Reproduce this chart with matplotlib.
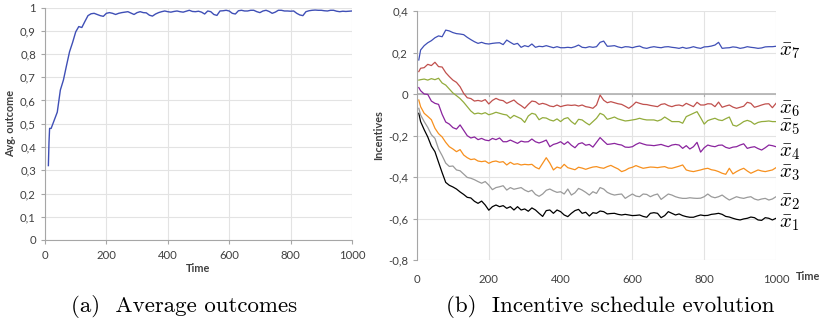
import numpy as np
import matplotlib
matplotlib.use('Agg')
from matplotlib import pyplot as plt
from matplotlib.ticker import FuncFormatter

# (a) average outcome over time
time_a = [11, 13, 15, 20] + list(range(30, 1001, 10))
outcome = [0.320, 0.420, 0.480, 0.480, 0.515, 0.550, 0.645, 0.688, 0.750, 0.810,
           0.850, 0.895, 0.918, 0.914, 0.940, 0.965, 0.973, 0.975, 0.970, 0.965,
           0.962, 0.975, 0.978, 0.975, 0.970, 0.975, 0.978, 0.980, 0.982, 0.976,
           0.970, 0.978, 0.982, 0.978, 0.977, 0.967, 0.963, 0.972, 0.978, 0.982,
           0.985, 0.982, 0.980, 0.983, 0.985, 0.982, 0.980, 0.984, 0.988, 0.983,
           0.982, 0.984, 0.980, 0.972, 0.985, 0.982, 0.970, 0.966, 0.985, 0.986,
           0.988, 0.985, 0.975, 0.972, 0.986, 0.988, 0.985, 0.985, 0.988, 0.988,
           0.982, 0.978, 0.985, 0.988, 0.983, 0.975, 0.980, 0.988, 0.988, 0.985,
           0.985, 0.984, 0.985, 0.975, 0.968, 0.965, 0.982, 0.986, 0.988, 0.989,
           0.988, 0.988, 0.986, 0.985, 0.988, 0.988, 0.984, 0.982, 0.984, 0.983,
           0.984, 0.985]

# (b) incentive schedule, one series per x-bar
time_b = [5] + list(range(10, 1001, 10))
x7 = [0.164, 0.212, 0.233, 0.247, 0.257, 0.271, 0.280, 0.276, 0.308, 0.304,
      0.296, 0.291, 0.289, 0.286, 0.273, 0.262, 0.252, 0.244, 0.249, 0.243,
      0.241, 0.244, 0.246, 0.247, 0.238, 0.260, 0.249, 0.239, 0.244, 0.225,
      0.233, 0.228, 0.241, 0.225, 0.230, 0.228, 0.233, 0.228, 0.223, 0.228,
      0.223, 0.223, 0.225, 0.223, 0.228, 0.236, 0.225, 0.223, 0.228, 0.225,
      0.228, 0.249, 0.255, 0.230, 0.231, 0.233, 0.227, 0.223, 0.228, 0.227,
      0.223, 0.228, 0.231, 0.223, 0.220, 0.225, 0.228, 0.225, 0.223, 0.227,
      0.228, 0.225, 0.223, 0.220, 0.225, 0.220, 0.223, 0.228, 0.223, 0.220,
      0.227, 0.228, 0.231, 0.236, 0.249, 0.220, 0.222, 0.223, 0.227, 0.225,
      0.220, 0.223, 0.228, 0.225, 0.223, 0.220, 0.222, 0.227, 0.228, 0.228,
      0.230]
x6 = [0.108, 0.124, 0.127, 0.143, 0.137, 0.153, 0.132, 0.130, 0.103, 0.084,
      0.067, 0.056, 0.035, 0.003, -0.018, -0.022, -0.034, -0.031, -0.035, -0.027,
      -0.048, -0.031, -0.021, -0.029, -0.032, -0.045, -0.037, -0.029, -0.045, -0.056,
      -0.069, -0.050, -0.034, -0.037, -0.050, -0.045, -0.050, -0.058, -0.061, -0.053,
      -0.061, -0.056, -0.053, -0.055, -0.053, -0.058, -0.053, -0.061, -0.064, -0.069,
      -0.053, -0.005, -0.030, -0.042, -0.037, -0.042, -0.047, -0.050, -0.059, -0.069,
      -0.056, -0.039, -0.045, -0.050, -0.051, -0.055, -0.058, -0.061, -0.050, -0.047,
      -0.056, -0.061, -0.055, -0.053, -0.058, -0.045, -0.053, -0.061, -0.040, -0.053,
      -0.053, -0.047, -0.048, -0.061, -0.039, -0.064, -0.058, -0.053, -0.063, -0.069,
      -0.064, -0.059, -0.040, -0.045, -0.064, -0.059, -0.053, -0.048, -0.047, -0.066,
      -0.045]
x5 = [0.067, 0.069, 0.072, 0.067, 0.074, 0.069, 0.076, 0.053, 0.043, 0.024,
      0.005, -0.008, -0.022, -0.040, -0.061, -0.082, -0.096, -0.092, -0.096, -0.090,
      -0.100, -0.095, -0.088, -0.093, -0.098, -0.101, -0.117, -0.103, -0.111, -0.119,
      -0.137, -0.106, -0.093, -0.098, -0.124, -0.114, -0.116, -0.125, -0.130, -0.120,
      -0.133, -0.119, -0.114, -0.133, -0.146, -0.122, -0.125, -0.138, -0.149, -0.133,
      -0.117, -0.093, -0.101, -0.122, -0.117, -0.111, -0.120, -0.125, -0.130, -0.128,
      -0.125, -0.122, -0.117, -0.122, -0.125, -0.125, -0.125, -0.130, -0.124, -0.111,
      -0.122, -0.133, -0.133, -0.133, -0.141, -0.109, -0.101, -0.093, -0.085, -0.114,
      -0.145, -0.128, -0.122, -0.117, -0.125, -0.128, -0.119, -0.111, -0.150, -0.155,
      -0.145, -0.133, -0.127, -0.133, -0.146, -0.137, -0.133, -0.132, -0.130, -0.133,
      -0.133]
x4 = [0.031, 0.016, 0.000, -0.002, -0.034, -0.045, -0.050, -0.098, -0.135, -0.145,
      -0.162, -0.169, -0.149, -0.175, -0.201, -0.212, -0.207, -0.220, -0.214, -0.222,
      -0.225, -0.214, -0.220, -0.212, -0.230, -0.230, -0.222, -0.230, -0.238, -0.227,
      -0.231, -0.230, -0.217, -0.230, -0.236, -0.230, -0.222, -0.254, -0.243, -0.238,
      -0.230, -0.243, -0.230, -0.247, -0.259, -0.240, -0.235, -0.247, -0.243, -0.256,
      -0.233, -0.210, -0.227, -0.243, -0.241, -0.238, -0.243, -0.246, -0.256, -0.257,
      -0.254, -0.243, -0.235, -0.241, -0.246, -0.247, -0.249, -0.246, -0.243, -0.249,
      -0.254, -0.246, -0.243, -0.246, -0.262, -0.249, -0.265, -0.254, -0.233, -0.280,
      -0.259, -0.246, -0.251, -0.254, -0.247, -0.246, -0.257, -0.262, -0.256, -0.254,
      -0.246, -0.240, -0.262, -0.257, -0.254, -0.263, -0.270, -0.259, -0.246, -0.249,
      -0.254]
x3 = [-0.029, -0.061, -0.093, -0.108, -0.124, -0.165, -0.191, -0.207, -0.233, -0.254,
      -0.265, -0.278, -0.268, -0.294, -0.307, -0.316, -0.313, -0.323, -0.326, -0.323,
      -0.334, -0.326, -0.323, -0.329, -0.326, -0.342, -0.329, -0.339, -0.336, -0.342,
      -0.339, -0.341, -0.339, -0.353, -0.361, -0.334, -0.307, -0.333, -0.366, -0.352,
      -0.358, -0.339, -0.355, -0.360, -0.365, -0.353, -0.357, -0.363, -0.357, -0.352,
      -0.350, -0.355, -0.358, -0.350, -0.344, -0.353, -0.361, -0.374, -0.368, -0.358,
      -0.353, -0.345, -0.352, -0.358, -0.355, -0.352, -0.353, -0.355, -0.352, -0.350,
      -0.357, -0.358, -0.353, -0.348, -0.342, -0.366, -0.371, -0.374, -0.370, -0.366,
      -0.361, -0.358, -0.365, -0.368, -0.374, -0.382, -0.387, -0.358, -0.385, -0.374,
      -0.365, -0.358, -0.371, -0.382, -0.374, -0.366, -0.371, -0.374, -0.370, -0.366,
      -0.355]
x2 = [-0.069, -0.101, -0.133, -0.161, -0.196, -0.214, -0.265, -0.297, -0.333, -0.349,
      -0.347, -0.366, -0.370, -0.386, -0.402, -0.406, -0.413, -0.422, -0.430, -0.422,
      -0.439, -0.461, -0.451, -0.447, -0.442, -0.463, -0.451, -0.459, -0.455, -0.451,
      -0.463, -0.471, -0.464, -0.484, -0.493, -0.482, -0.464, -0.458, -0.467, -0.474,
      -0.471, -0.482, -0.458, -0.487, -0.476, -0.455, -0.463, -0.474, -0.487, -0.471,
      -0.479, -0.451, -0.458, -0.474, -0.482, -0.487, -0.484, -0.482, -0.503, -0.492,
      -0.482, -0.492, -0.495, -0.482, -0.484, -0.495, -0.487, -0.482, -0.508, -0.495,
      -0.482, -0.487, -0.495, -0.500, -0.503, -0.503, -0.500, -0.502, -0.503, -0.502,
      -0.495, -0.482, -0.495, -0.500, -0.495, -0.487, -0.500, -0.511, -0.503, -0.495,
      -0.500, -0.503, -0.498, -0.495, -0.506, -0.511, -0.506, -0.503, -0.511, -0.506,
      -0.495]
x1 = [-0.093, -0.133, -0.172, -0.207, -0.251, -0.278, -0.329, -0.379, -0.426, -0.440,
      -0.448, -0.458, -0.472, -0.484, -0.498, -0.501, -0.517, -0.527, -0.516, -0.535,
      -0.560, -0.543, -0.535, -0.543, -0.538, -0.551, -0.543, -0.559, -0.543, -0.559,
      -0.554, -0.565, -0.549, -0.559, -0.575, -0.590, -0.562, -0.559, -0.575, -0.559,
      -0.567, -0.583, -0.591, -0.575, -0.562, -0.556, -0.575, -0.570, -0.588, -0.572,
      -0.575, -0.564, -0.567, -0.578, -0.576, -0.575, -0.580, -0.583, -0.580, -0.583,
      -0.586, -0.585, -0.583, -0.590, -0.594, -0.575, -0.572, -0.575, -0.596, -0.586,
      -0.567, -0.575, -0.583, -0.578, -0.586, -0.591, -0.594, -0.594, -0.588, -0.583,
      -0.586, -0.585, -0.580, -0.578, -0.575, -0.580, -0.590, -0.593, -0.599, -0.604,
      -0.607, -0.602, -0.599, -0.593, -0.596, -0.607, -0.609, -0.596, -0.599, -0.607,
      -0.599]

series = [x1, x2, x3, x4, x5, x6, x7]
colors = ['#000000', '#9a9a9a', '#f7901e', '#8a249e', '#93ac3c', '#c0504d', '#3f4fb6']
labels = [r'$\bar{x}_1$', r'$\bar{x}_2$', r'$\bar{x}_3$', r'$\bar{x}_4$',
          r'$\bar{x}_5$', r'$\bar{x}_6$', r'$\bar{x}_7$']

plt.rcParams['font.family'] = 'Lato'
plt.rcParams['mathtext.fontset'] = 'cm'
tick_font = 8.2
grid_col = '#e3e3e3'
axis_col = '#a6a6a6'
text_col = '#404040'

comma = FuncFormatter(lambda v, p: ('%g' % (round(v, 2) + 0.0)).replace('.', ','))

fig = plt.figure(figsize=(8.27, 3.22), dpi=100)

# ---- (a) ----
ax1 = fig.add_axes([45 / 827, 1 - 240 / 322, 307 / 827, 232.5 / 322])
ax1.plot(time_a, outcome, color='#3f4fb6', lw=1.0)
ax1.set_xlim(0, 1000)
ax1.set_ylim(0, 1)
ax1.set_xticks(range(0, 1001, 200))
ax1.set_yticks(np.arange(0, 1.01, 0.1))
ax1.yaxis.set_major_formatter(comma)
ax1.grid(True, color=grid_col, lw=0.8)
ax1.set_axisbelow(True)
for s in ['top', 'right']:
    ax1.spines[s].set_visible(False)
for s in ['left', 'bottom']:
    ax1.spines[s].set_color(axis_col)
ax1.tick_params(colors=axis_col, labelcolor=text_col, labelsize=tick_font, length=3, width=0.8)
ax1.tick_params(axis='x', pad=4)
ax1.set_xlabel('Time', fontsize=7.8, fontweight='bold', color=text_col, labelpad=2)
ax1.set_ylabel('Avg. outcome', fontsize=7.8, fontweight='bold', color=text_col, labelpad=3)

# ---- (b) ----
ax2 = fig.add_axes([417 / 827, 1 - 260 / 322, 359 / 827, 249 / 322])
for ys, c in zip(series, colors):
    ax2.plot(time_b, ys, color=c, lw=0.9)
ax2.set_xlim(0, 1000)
ax2.set_ylim(-0.8, 0.4)
ax2.set_xticks(range(0, 1001, 200))
ax2.set_yticks(np.arange(-0.8, 0.41, 0.2))
ax2.yaxis.set_major_formatter(comma)
ax2.grid(True, color=grid_col, lw=0.8)
ax2.set_axisbelow(True)
for s in ['top', 'right', 'bottom']:
    ax2.spines[s].set_visible(False)
ax2.spines['left'].set_color(axis_col)
ax2.axhline(0, color='#b0b0b0', lw=1.2, zorder=1.5)
ax2.tick_params(axis='x', length=0, labelsize=tick_font, labelcolor=text_col, pad=10)
ax2.tick_params(axis='y', colors=axis_col, labelcolor=text_col, labelsize=tick_font, length=3, width=0.8)
# small ticks on the zero line
for t in range(200, 1001, 200):
    ax2.plot([t, t], [0, -0.012], color='#b0b0b0', lw=0.8, zorder=1.5)
ax2.set_ylabel('Incentives', fontsize=7.8, fontweight='bold', color=text_col, labelpad=3)
fig.text(796 / 827, 1 - 277 / 322, 'Time', fontsize=7.8, fontweight='bold',
         color=text_col, va='center', ha='left')
for ys, lab in zip(series, labels):
    ax2.text(1008, ys[-1] - 0.025, lab, fontsize=15, va='center', ha='left', clip_on=False)

# captions
fig.text(184 / 827, 1 - 306 / 322, '(a)  Average outcomes', fontsize=16.5,
         family='cmr10', ha='center', va='center')
fig.text(610 / 827, 1 - 306 / 322, '(b)  Incentive schedule evolution', fontsize=16.5,
         family='cmr10', ha='center', va='center')

fig.savefig('out.png', dpi=100)
